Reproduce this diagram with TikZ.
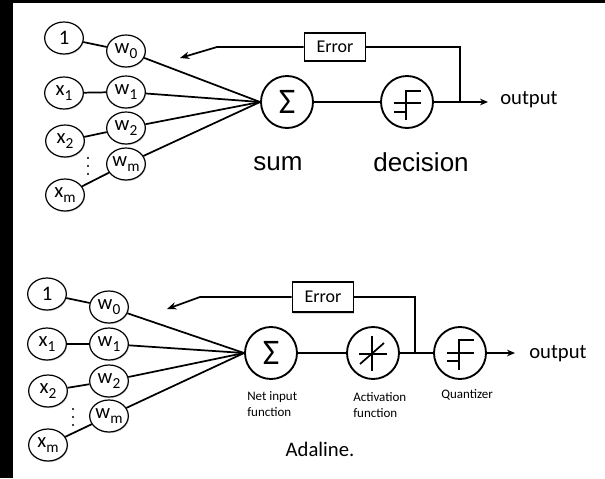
\documentclass[tikz,border=0pt]{standalone}
\usepackage{fontspec}
\setmainfont{Carlito}
\newfontfamily\arialfont{Liberation Sans}
\usetikzlibrary{shapes.geometric,arrows.meta,shadows}
\newcommand{\sbx}[1]{\raisebox{-0.45ex}{\fontsize{11.5}{12}\selectfont #1}}

\begin{document}
\begin{tikzpicture}[x=0.75pt,y=-0.75pt,
  softshadow/.style={drop shadow={opacity=0.3,shadow xshift=0.6pt,shadow yshift=-0.9pt}},
  inp/.style={ellipse,draw,line width=0.9pt,fill=white,minimum width=29pt,
    minimum height=24pt,inner sep=0pt,font=\fontsize{15.5}{16}\selectfont,softshadow},
  unit/.style={circle,draw,line width=1.4pt,fill=white,minimum size=39pt,inner sep=0pt},
  errbox/.style={rectangle,draw,line width=1.3pt,fill=white,minimum width=45.75pt,
    minimum height=21pt,inner sep=0pt,font=\fontsize{13.5}{15}\selectfont,softshadow},
  wire/.style={line width=1.3pt},
  glyph/.style={line width=1.3pt},
  fb/.style={line width=1.3pt,-{Stealth[length=7pt,width=5.5pt]}},
  outarrow/.style={line width=1.3pt,-{Stealth[length=6pt,width=5pt]}},
  lbl/.style={inner sep=0pt,anchor=west,align=left,font=\fontsize{9.75}{11.5}\selectfont},
  bigword/.style={inner sep=0pt,font=\arialfont\fontsize{19.5}{22}\selectfont},
  outtext/.style={inner sep=0pt,anchor=west,font=\fontsize{15.5}{18}\selectfont},
  sigma/.style={font=\fontsize{27}{27}\selectfont},
  dot/.style={fill=black}]

% page frame
\fill[black] (0,0) rectangle (605,478);
\fill[white] (13,3) rectangle (605,478);
\useasboundingbox (0,0) rectangle (605,478);

% ---------------- Perceptron ----------------
\node[inp] (one) at (64,38) {1};
\node[inp] (w0) at (126,51) {w\sbx{0}};
\node[inp] (x1) at (64,93) {x\sbx{1}};
\node[inp] (w1) at (126,92) {w\sbx{1}};
\node[inp] (x2) at (65,141) {x\sbx{2}};
\node[inp] (w2) at (126,128) {w\sbx{2}};
\node[inp] (wm) at (126,164) {w\sbx{m}};
\node[inp] (xm) at (65,195) {x\sbx{m}};
\foreach \yy in {158,166,174} \fill[dot] (88,\yy) circle (1.1);

\node[unit,sigma] (sig) at (287,102) {Σ};
\node[unit] (dec) at (407,102) {};
\begin{scope}[shift={(dec.center)}]
  \draw[glyph] (-1,-12) -- (-1,18);
  \draw[glyph] (-1,-11) -- (14,-11);
  \draw[glyph] (-13,1) -- (14,1);
  \draw[glyph] (-13,10) -- (-1,10);
\end{scope}

\node[errbox] (err) at (335,47) {Error};
\coordinate (j) at (460,102);
\coordinate (o) at (488,102);
\coordinate (fba) at (217,47);
\coordinate (fbb) at (180,58);

\draw[wire] (one) -- (w0);
\draw[wire] (x1) -- (w1);
\draw[wire] (x2) -- (w2);
\draw[wire] (xm) -- (wm);
\foreach \w in {w0,w1,w2,wm} \draw[wire] (\w) -- (sig.west);
\draw[wire] (sig) -- (dec);
\draw[outarrow] (dec) -- (o);
\draw[wire] (j) |- (err.east);
\draw[fb] (err.west) -- (fba) -- (fbb);

\node[outtext] (out) at (500,100) {output};
\node[bigword] (sum) at (278,164) {sum};
\node[bigword] (decision) at (421,162) {decision};

% ---------------- Adaline ----------------
\node[inp] (one2) at (47,294) {1};
\node[inp] (w02) at (109,307) {w\sbx{0}};
\node[inp] (x12) at (47,344) {x\sbx{1}};
\node[inp] (w12) at (109,344) {w\sbx{1}};
\node[inp] (x22) at (48,391) {x\sbx{2}};
\node[inp] (w22) at (109,381) {w\sbx{2}};
\node[inp] (wm2) at (109,416) {w\sbx{m}};
\node[inp] (xm2) at (48,445) {x\sbx{m}};
\foreach \yy in {409,417,425} \fill[dot] (73,\yy) circle (1.1);

\node[unit,sigma] (sig2) at (271,353) {Σ};
\node[unit] (act2) at (373,353) {};
\begin{scope}[shift={(act2.center)}]
  \draw[glyph] (-1,-17) -- (-1,18);
  \draw[glyph] (-14,1) -- (14,1);
  \draw[glyph] (-13,11) -- (11,-10);
\end{scope}
\node[unit] (qnt2) at (460,353) {};
\begin{scope}[shift={(qnt2.center)}]
  \draw[glyph] (-1,-14) -- (-1,17);
  \draw[glyph] (-1,-13) -- (14,-13);
  \draw[glyph] (-13,0) -- (14,0);
  \draw[glyph] (-13,8) -- (-1,8);
\end{scope}

\node[errbox,minimum height=23pt] (err2) at (323,297) {Error};
\coordinate (j2) at (415,353);
\coordinate (o2) at (515,353);
\coordinate (fba2) at (200,297);
\coordinate (fbb2) at (167,309);

\draw[wire] (one2) -- (w02);
\draw[wire] (x12) -- (w12);
\draw[wire] (x22) -- (w22);
\draw[wire] (xm2) -- (wm2);
\foreach \w in {w02,w12,w22,wm2} \draw[wire] (\w) -- (sig2.west);
\draw[wire] (sig2) -- (act2);
\draw[wire] (act2) -- (qnt2);
\draw[outarrow] (qnt2) -- (o2);
\draw[wire] (j2) |- (err2.east);
\draw[fb] (err2.west) -- (fba2) -- (fbb2);

\node[outtext] (out2) at (529,354) {output};
\node[lbl] (netlbl) at (247,404) {Net input\\function};
\node[lbl] (actlbl) at (353,405) {Activation\\function};
\node[lbl] (qntlbl) at (441,395) {Quantizer};
\node[inner sep=0pt,font=\fontsize{15.5}{18}\selectfont] (ada) at (320,449) {Adaline.};
\end{tikzpicture}
\end{document}
